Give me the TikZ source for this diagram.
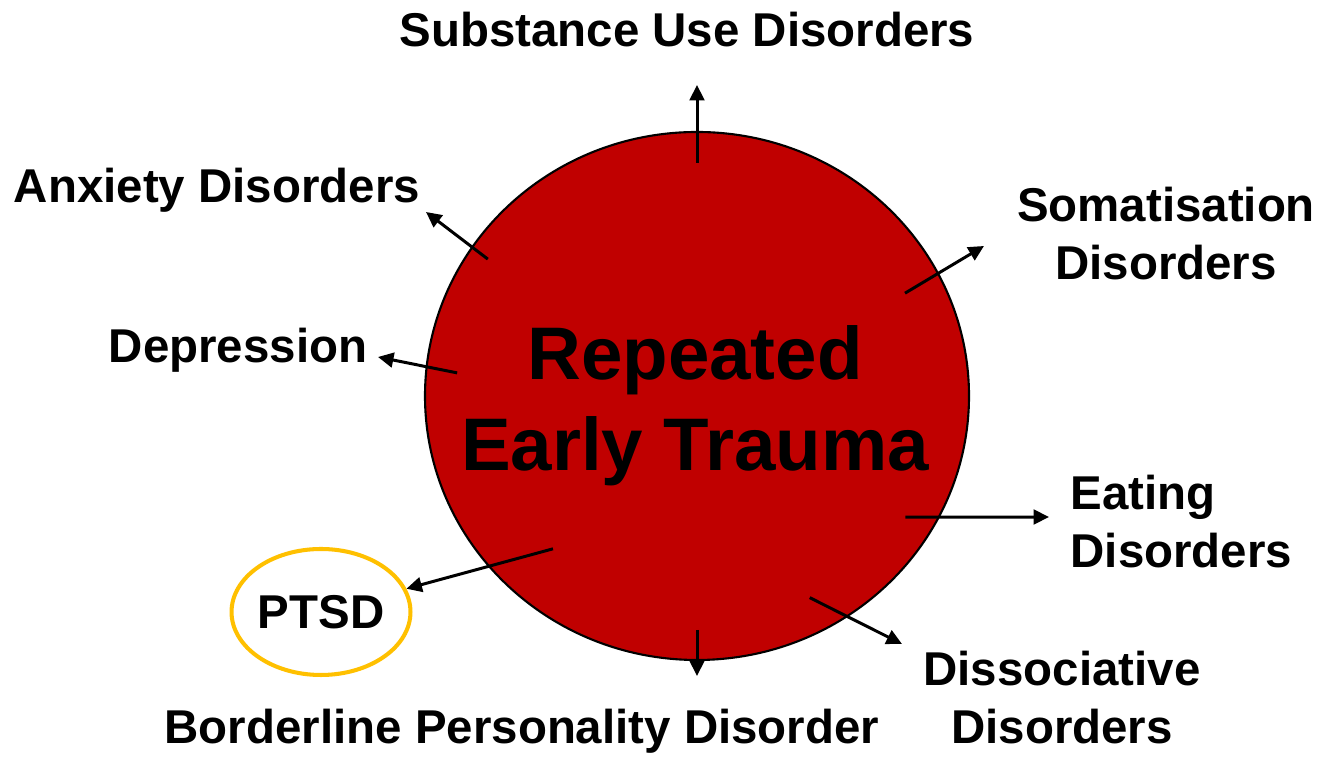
\documentclass[tikz,border=0pt]{standalone}
\usepackage{fontspec}
\setmainfont{Liberation Sans}
\usetikzlibrary{shapes.geometric,arrows.meta}
\definecolor{traumared}{RGB}{192,0,0}
\definecolor{ptsdgold}{RGB}{255,192,0}

\begin{document}
\begin{tikzpicture}[
    lbl/.style={font=\fontsize{13.5}{16.5}\selectfont\bfseries, align=center, inner sep=0pt},
    arr/.style={-{Triangle[length=4.4pt,width=4.2pt]}, line width=0.85pt}]
    \useasboundingbox (0,0) rectangle (13.25,7.57);

    \filldraw[fill=traumared, line width=0.6pt] (6.97,3.61) ellipse (2.72 and 2.64);
    \node[align=center, inner sep=0pt, font=\fontsize{21.2}{25.8}\selectfont\bfseries] (trauma) at (6.95,3.51) {Repeated\\Early Trauma};

    \node[lbl] (sud) at (6.87,7.27) {Substance Use Disorders};
    \node[lbl] (anx) at (2.17,5.67) {Anxiety Disorders};
    \node[lbl] (som) at (11.66,5.23) {Somatisation\\Disorders};
    \node[lbl] (dep) at (2.38,4.07) {Depression};
    \node[lbl, anchor=west, align=left] (eat) at (10.70,2.35) {Eating\\Disorders};
    \node[lbl] (dis) at (10.62,0.59) {Dissociative\\Disorders};
    \node[lbl] (bpd) at (5.22,0.26) {Borderline Personality Disorder};
    \node[lbl, ellipse, draw=ptsdgold, line width=1.15pt, minimum width=1.74cm, minimum height=1.26cm] (ptsd) at (3.21,1.45) {PTSD};

    % arrows start inside the circle
    \foreach \n/\a/\r in {up/90/2.33, anx/146.8/2.5, dep/174.5/2.41, ptsd/226.7/2.1,
                          down/270/2.34, dis/299.2/2.31, eat/329.8/2.41, som/26.3/2.32}
        \coordinate (s\n) at ([shift={(\a:\r)}]6.97,3.61);

    \coordinate (tup) at (6.97,6.72);
    \coordinate (tanx) at (4.26,5.45);
    \coordinate (tdep) at (3.78,4.00);
    \coordinate (tdown) at (6.97,0.81);
    \coordinate (tdis) at (9.02,1.13);
    \coordinate (teat) at (10.49,2.40);
    \coordinate (tsom) at (9.84,5.11);

    \foreach \n in {up,anx,dep,down,dis,eat,som}
        \draw[arr] (s\n) -- (t\n);
    \draw[arr] (sptsd) -- (ptsd);

\end{tikzpicture}
\end{document}
